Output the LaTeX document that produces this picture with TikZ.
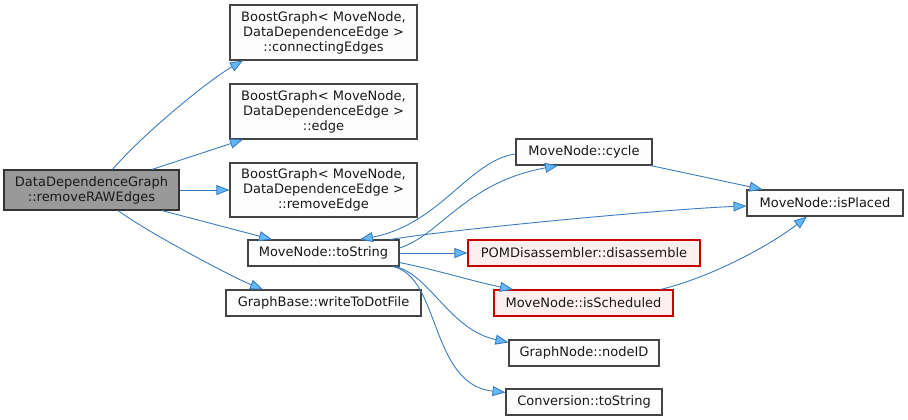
\documentclass[tikz,border=0pt]{standalone}
\usepackage{fontspec}
\setmainfont{DejaVu Sans}
\usetikzlibrary{arrows.meta}

\definecolor{edgeblue}{HTML}{3A7CBE}
\definecolor{headblue}{HTML}{63B8FF}
\definecolor{boxline}{HTML}{444444}
\definecolor{boxfill}{HTML}{FCFDFC}
\definecolor{rootfill}{HTML}{999999}
\definecolor{redline}{HTML}{CC0000}
\definecolor{redfill}{HTML}{FFF0F0}

\tikzset{
  fn/.style={draw=boxline,line width=1.1pt,fill=boxfill,text=black!90,rectangle,
    inner sep=0pt,align=center,font=\fontsize{13}{15}\selectfont},
  fnroot/.style={fn,fill=rootfill,draw=black!80},
  fnred/.style={fn,draw=redline,fill=redfill},
  call/.style={draw=edgeblue,line width=0.9pt,
    -{Triangle[length=13pt,width=10pt,fill=headblue]}}
}

\begin{document}
\begin{tikzpicture}[x=1pt,y=-1pt]

  \useasboundingbox (0,0) rectangle (908,420);

  \node [fnroot,minimum width=175pt,minimum height=40pt] (raw) at (91.5,190)
    {DataDependenceGraph\\::removeRAWEdges};

  \node [fn,minimum width=187pt,minimum height=55pt] (bg_conn) at (323.5,32.5)
    {BoostGraph< MoveNode,\\DataDependenceEdge >\\::connectingEdges};
  \node [fn,minimum width=187pt,minimum height=55pt] (bg_edge) at (323.5,111.5)
    {BoostGraph< MoveNode,\\DataDependenceEdge >\\::edge};
  \node [fn,minimum width=187pt,minimum height=54pt] (bg_remove) at (323.5,190)
    {BoostGraph< MoveNode,\\DataDependenceEdge >\\::removeEdge};
  \node [fn,minimum width=151pt,minimum height=26pt] (mn_tostr) at (323.5,253)
    {MoveNode::toString};
  \node [fn,minimum width=195pt,minimum height=26pt] (gb_dot) at (323.5,303)
    {GraphBase::writeToDotFile};

  \node [fn,minimum width=136pt,minimum height=26pt] (mn_cycle) at (584,152)
    {MoveNode::cycle};
  \node [fnred,minimum width=232pt,minimum height=26pt] (pom_dis) at (584,253)
    {POMDisassembler::disassemble};
  \node [fnred,minimum width=179pt,minimum height=26pt] (mn_sched) at (583.5,303)
    {MoveNode::isScheduled};
  \node [fn,minimum width=150pt,minimum height=26pt] (gn_id) at (584,353)
    {GraphNode::nodeID};
  \node [fn,minimum width=156pt,minimum height=26pt] (conv_str) at (584,402)
    {Conversion::toString};

  \node [fn,minimum width=156pt,minimum height=26pt] (mn_placed) at (825,203)
    {MoveNode::isPlaced};

  % calls out of removeRAWEdges
  \draw [call] ([xshift=21pt]raw.north)
    .. controls +(30,-35) and +(-35,20) .. ([xshift=-80.5pt]bg_conn.south);
  \draw [call] ([xshift=60.5pt]raw.north) -- ([xshift=-80.5pt]bg_edge.south);
  \draw [call] (raw.east) -- (bg_remove.west);
  \draw [call] ([xshift=70.5pt]raw.south) -- ([xshift=-51.5pt]mn_tostr.north);
  \draw [call] ([xshift=26.5pt]raw.south)
    .. controls +(30,22) and +(-30,-12) .. ([xshift=-60.5pt]gb_dot.north);

  % calls out of toString
  \draw [call] ([yshift=5pt]mn_tostr.east)
    .. controls +(41,-13) and +(-93,17) .. ([xshift=-26pt]mn_cycle.south);
  \draw [call] ([xshift=-9pt]mn_tostr.north east)
    .. controls +(60,-10) and +(-80,3) .. ([yshift=-3pt]mn_placed.west);
  \draw [call] (mn_tostr.east) -- (pom_dis.west);
  \draw [call] ([yshift=4pt]mn_tostr.south east)
    .. controls +(40,8) and +(-40,-8) .. ([xshift=-70.5pt]mn_sched.north);
  \draw [call] ([xshift=-4pt]mn_tostr.south east)
    .. controls +(35,9) and +(-59,-13) .. ([yshift=-3pt]gn_id.north west);
  \draw [call] ([xshift=-7pt]mn_tostr.south east)
    .. controls +(48,9) and +(-76,-8) .. ([yshift=-4pt]conv_str.north west);

  % the rest
  \draw [call] ([yshift=-2pt]mn_cycle.west)
    .. controls +(-46,6) and +(80,-15) .. ([xshift=36.5pt]mn_tostr.north);
  \draw [call] ([xshift=-2pt]mn_cycle.south east) -- ([xshift=16pt]mn_placed.north west);
  \draw [call] ([xshift=-13pt]mn_sched.north east)
    .. controls +(50,-12) and +(-37,29) .. ([xshift=-18pt]mn_placed.south);

\end{tikzpicture}
\end{document}
